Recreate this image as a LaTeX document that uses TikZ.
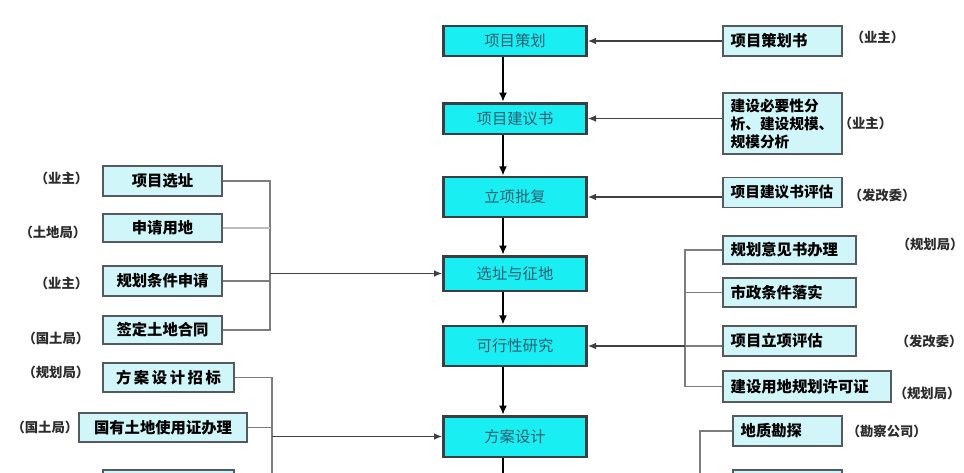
\documentclass[tikz,border=0pt]{standalone}
\usepackage{fontspec}
\newfontfamily\cjk{Noto Sans CJK SC}
\usetikzlibrary{arrows.meta, positioning}

\definecolor{stagefill}{RGB}{25,238,242}
\definecolor{stageline}{RGB}{58,62,66}
\definecolor{stagetext}{RGB}{45,95,115}
\definecolor{itemfill}{RGB}{208,246,250}
\definecolor{itemline}{RGB}{85,90,95}
\definecolor{busline}{RGB}{125,125,125}
\definecolor{tagtext}{RGB}{45,45,45}

\begin{document}
\begin{tikzpicture}[
		x=0.75pt, y=-0.75pt,
		>=Latex,
		stage/.style={draw=stageline, line width=2pt, fill=stagefill, text=stagetext, minimum width=107.5pt, inner sep=0pt, font=\cjk\fontsize{11.5}{13}\selectfont},
		item/.style={draw=itemline, line width=1.3pt, fill=itemfill, inner sep=0pt, font=\cjk\bfseries\fontsize{11.5}{13.5}\selectfont},
		ritem/.style={item, align=left, inner xsep=6pt},
		tag/.style={inner sep=1pt, text=tagtext, font=\cjk\bfseries\fontsize{10}{12}\selectfont},
		flow/.style={-{Latex[length=7pt,width=6pt]}, line width=2.2pt, draw=black},
		feed/.style={-{Latex[length=6pt,width=5pt]}, line width=0.8pt, draw=black!75},
		bus/.style={line width=1pt, draw=busline}
		]
		
		\useasboundingbox (0,0) rectangle (964,472);
		\clip (0,0) rectangle (964,472);
		
		% =========================================================
		% 1. Main stages (centre column)
		% =========================================================
		\node[stage, minimum height=22.5pt] (Plan) at (515,41) {项目策划};
		\node[stage, minimum height=23pt] (Proposal) at (515,118.5) {项目建议书};
		\node[stage, minimum height=30pt] (Approval) at (515,197) {立项批复};
		\node[stage, minimum height=26pt] (Site) at (515,273.5) {选址与征地};
		\node[stage, minimum height=30pt] (Feasibility) at (515,346) {可行性研究};
		\node[stage, minimum height=30.5pt] (Scheme) at (515,436.5) {方案设计};
		\coordinate (Next) at (503,480);
		
		\foreach \a/\b in {Plan/Proposal, Proposal/Approval, Approval/Site, Site/Feasibility, Feasibility/Scheme}
		\draw[flow] ([xshift=-9pt]\a.south) -- ([xshift=-9pt]\b.north);
		\draw[line width=2.2pt] ([xshift=-9pt]Scheme.south) -- (Next);
		
		% =========================================================
		% 2. Right side items
		% =========================================================
		\node[ritem, text width=77.75pt, minimum height=23pt] (Book) at (782.5,41) {项目策划书};
		\node[ritem, text width=77.75pt, minimum height=46pt, font=\cjk\bfseries\fontsize{11}{13.5}\selectfont] (Need) at (782.5,123.5) {建设必要性分\\析、建设规模、\\规模分析};
		\node[ritem, text width=77.75pt, minimum height=22.5pt, font=\cjk\bfseries\fontsize{11}{13.5}\selectfont] (Review) at (782.5,192.5) {项目建议书评估};
		
		\node[ritem, text width=88.25pt, minimum height=21.5pt] (Opinion) at (789.5,250) {规划意见书办理};
		\node[ritem, text width=88.25pt, minimum height=22.25pt] (Utility) at (789.5,292.5) {市政条件落实};
		\node[ritem, text width=88.25pt, minimum height=23pt] (Assess) at (789.5,341) {项目立项评估};
		\node[ritem, text width=114.5pt, minimum height=23.75pt] (Permit) at (807,386.5) {建设用地规划许可证};
		
		\node[ritem, text width=70.25pt, minimum height=23pt] (Survey) at (787.5,431) {地质勘探};
		\node[ritem, text width=70.25pt, minimum height=30pt] (NextRight) at (787.5,490) {};
		
		% Right tags
		\node[tag, right=4.5pt of Book, yshift=3pt] (tBook) {（业主）};
		\node[tag, right=-4.5pt of Need] (tNeed) {（业主）};
		\node[tag, right=3pt of Review, yshift=-2pt] (tReview) {（发改委）};
		\node[tag, right=28.5pt of Opinion, yshift=4pt] (tOpinion) {（规划局）};
		\node[tag, right=27.75pt of Assess] (tAssess) {（发改委）};
		\node[tag, right=0pt of Permit, yshift=-5pt] (tPermit) {（规划局）};
		\node[tag, right=1.5pt of Survey] (tSurvey) {（勘察公司）};
		
		% =========================================================
		% 3. Left side items
		% =========================================================
		\node[item, minimum width=89.75pt, minimum height=23pt] (Xuanzhi) at (162.5,181) {项目选址};
		\node[item, minimum width=89.75pt, minimum height=21.5pt] (Apply) at (162.5,228) {申请用地};
		\node[item, minimum width=89.75pt, minimum height=23pt] (Terms) at (162.5,281) {规划条件申请};
		\node[item, minimum width=89.75pt, minimum height=21.5pt] (Contract) at (162.5,330) {签定土地合同};
		\node[item, minimum width=98.75pt, minimum height=22.25pt] (Tender) at (168.5,377.5) {方\,案\,设\,计\,招\,标};
		\node[item, minimum width=126.5pt, minimum height=22.25pt] (Cert) at (163,427.5) {国有土地使用证办理};
		\node[item, minimum width=98.75pt, minimum height=30pt] (NextLeft) at (168.5,490) {};
		
		% Left tags
		\node[tag, left=9pt of Xuanzhi, yshift=2pt] (tXuanzhi) {（业主）};
		\node[tag, left=10.5pt of Apply, yshift=-3pt] (tApply) {（土地局）};
		\node[tag, left=9pt of Terms, yshift=-1.5pt] (tTerms) {（业主）};
		\node[tag, left=8.25pt of Contract, yshift=-6pt] (tContract) {（国土局）};
		\node[tag, left=8.25pt of Tender, yshift=4pt] (tTender) {（规划局）};
		\node[tag, left=-1.5pt of Cert] (tCert) {（国土局）};
		
		% =========================================================
		% 4. Buses and feeds
		% =========================================================
		\coordinate (LeftBus) at (270,273.5);
		\coordinate (LowBus) at (272,480);
		\coordinate (RightBus) at (685,346);
		\coordinate (SurveyBus) at (700,480);
		
		\draw[bus] (Xuanzhi.east) -| (LeftBus) (Contract.east) -| (LeftBus);
		\draw[bus, draw=busline!50] (Apply.east) -- (Apply.east -| LeftBus);
		\draw[bus] (Terms.east) -- (Terms.east -| LeftBus);
		\draw[feed] (LeftBus) -- (Site.west);
		
		\draw[bus] (Tender.east) -| (LowBus);
		\draw[bus] (Cert.east) -- (Cert.east -| LowBus);
		\draw[feed] (Scheme.west -| LowBus) -- (Scheme.west);
		
		\draw[bus] (Opinion.west) -| (RightBus) (Permit.west) -| (RightBus);
		\draw[bus] (Utility.west) -- (Utility.west -| RightBus);
		\draw[bus] (RightBus) -- (RightBus -| Assess.west);
		\draw[feed] (RightBus) -- (Feasibility.east);
		
		\draw[bus] (Survey.west) -| (SurveyBus);
		
		\draw[feed] (Book.west) -- (Plan.east);
		\draw[feed] (Need.west |- Proposal.east) -- (Proposal.east);
		\draw[feed] (Review.west |- Approval.east) -- (Approval.east);
	\end{tikzpicture}
\end{document}
